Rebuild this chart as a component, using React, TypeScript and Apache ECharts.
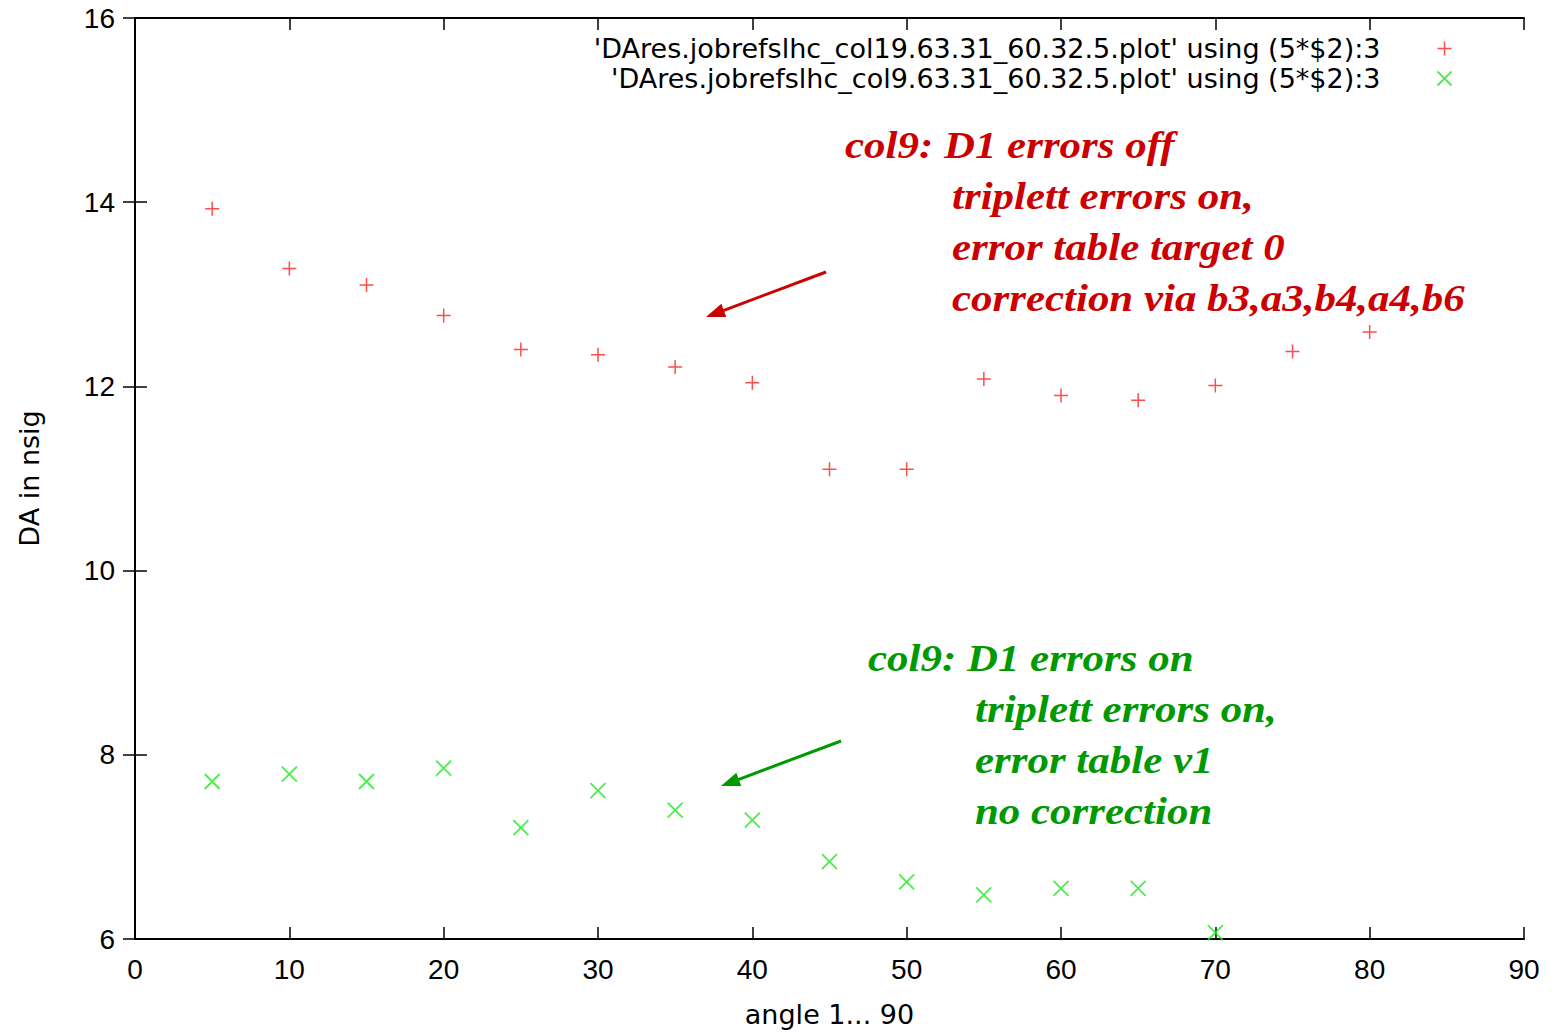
import React, { useEffect, useRef } from "react";
import * as echarts from "echarts";

// Angles (degrees) at which the dynamic aperture was evaluated
const angles = [5, 10, 15, 20, 25, 30, 35, 40, 45, 50, 55, 60, 65, 70, 75, 80];

// DA in units of sigma, col19 run (D1 errors off, corrected)
const daCol19 = [13.93, 13.28, 13.1, 12.77, 12.4, 12.345, 12.21, 12.04, 11.1, 11.1, 12.08, 11.9, 11.85, 12.01, 12.38, 12.59];

// DA in units of sigma, col9 run (D1 errors on, no correction)
const daCol9 = [7.71, 7.79, 7.71, 7.855, 7.21, 7.61, 7.4, 7.29, 6.84, 6.62, 6.48, 6.55, 6.55, 6.07];

const seriesNames = [
  "'DAres.jobrefslhc_col19.63.31_60.32.5.plot' using (5*$2):3",
  "'DAres.jobrefslhc_col9.63.31_60.32.5.plot' using (5*$2):3",
];

const redNote = ["col9: D1 errors off", "triplett errors on,", "error table target 0", "correction via b3,a3,b4,a4,b6"];
const greenNote = ["col9: D1 errors on", "triplett errors on,", "error table v1", "no correction"];

const PLUS = "path://M5 0L5 10M0 5L10 5";
const CROSS = "path://M0 0L10 10M0 10L10 0";

const RED = "#ff2020";
const GREEN = "#22e622";
const NOTE_RED = "#cc0000";
const NOTE_GREEN = "#009900";

function arrow(x1: number, y1: number, x2: number, y2: number, color: string) {
  const dx = x2 - x1;
  const dy = y2 - y1;
  const len = Math.sqrt(dx * dx + dy * dy);
  const ux = dx / len;
  const uy = dy / len;
  const headLen = 19;
  const halfW = 7;
  const bx = x2 - ux * headLen;
  const by = y2 - uy * headLen;
  const nx = -uy * halfW;
  const ny = ux * halfW;
  return [
    {
      type: "line",
      shape: { x1, y1, x2: bx + ux * 2, y2: by + uy * 2 },
      style: { stroke: color, lineWidth: 3 },
      z: 100,
    },
    {
      type: "polygon",
      shape: { points: [[x2, y2], [bx + nx, by + ny], [bx - nx, by - ny]] },
      style: { fill: color },
      z: 100,
    },
  ];
}

function noteText(lines: string[], x0: number, x1: number, y0: number, color: string) {
  const lineGap = 51;
  return lines.map((t, i) => ({
    type: "text",
    x: i === 0 ? x0 : x1,
    y: y0 + i * lineGap,
    scaleX: 1.13,
    z: 100,
    style: {
      text: t,
      fill: color,
      font: "italic bold 38px 'Liberation Serif', 'Times New Roman', serif",
      textVerticalAlign: "middle",
    },
  }));
}

export default function App() {
  const ref = useRef<HTMLDivElement>(null);

  useEffect(() => {
    if (!ref.current) return;
    const chart = echarts.init(ref.current, null, { renderer: "svg" });

    const axisLine = { show: true, lineStyle: { color: "#000", width: 2 } };
    const axisTick = { show: true, inside: true, length: 12, lineStyle: { color: "#000", width: 1.5 } };
    const font = "'Liberation Sans', Arial, sans-serif";
    const wideFont = "'DejaVu Sans', 'Liberation Sans', sans-serif";

    const legendText = { fontFamily: wideFont, fontSize: 27, color: "#000", padding: [0, 52, 0, 0] };

    chart.setOption({
      animation: false,
      backgroundColor: "#fff",
      grid: { left: 135, right: 32, top: 18, bottom: 93, containLabel: false },
      legend: [
        {
          orient: "vertical",
          right: 97,
          top: 30,
          align: "right",
          itemWidth: 14,
          itemHeight: 14,
          data: [{ name: seriesNames[0], icon: PLUS, itemStyle: { color: "none", borderColor: RED, borderWidth: 1.5 } }],
          textStyle: legendText,
        },
        {
          orient: "vertical",
          right: 97,
          top: 60,
          align: "right",
          itemWidth: 14,
          itemHeight: 14,
          data: [{ name: seriesNames[1], icon: CROSS, itemStyle: { color: "none", borderColor: GREEN, borderWidth: 1.8 } }],
          textStyle: legendText,
        },
      ],
      xAxis: [
        {
          type: "value",
          min: 0,
          max: 90,
          interval: 10,
          position: "bottom",
          axisLine,
          axisTick,
          splitLine: { show: false },
          axisLabel: { fontFamily: font, fontSize: 28, color: "#000", margin: 16 },
          name: "angle 1... 90",
          nameLocation: "middle",
          nameGap: 62,
          nameTextStyle: { fontFamily: wideFont, fontSize: 27, color: "#000" },
        },
        {
          type: "value",
          min: 0,
          max: 90,
          interval: 10,
          position: "top",
          axisLine,
          axisTick,
          splitLine: { show: false },
          axisLabel: { show: false },
        },
      ],
      yAxis: [
        {
          type: "value",
          min: 6,
          max: 16,
          interval: 2,
          position: "left",
          axisLine,
          axisTick,
          splitLine: { show: false },
          axisLabel: { fontFamily: font, fontSize: 28, color: "#000", margin: 20 },
          name: "DA in nsig",
          nameLocation: "middle",
          nameRotate: 90,
          nameGap: 92,
          nameTextStyle: { fontFamily: wideFont, fontSize: 27, color: "#000" },
        },
        {
          type: "value",
          min: 6,
          max: 16,
          interval: 2,
          position: "right",
          axisLine,
          axisTick,
          splitLine: { show: false },
          axisLabel: { show: false },
        },
      ],
      series: [
        {
          name: seriesNames[0],
          type: "scatter",
          symbol: PLUS,
          symbolSize: 14,
          itemStyle: { color: "none", borderColor: RED, borderWidth: 1.5 },
          data: daCol19.map((v, i) => [angles[i], v]),
          z: 2,
        },
        {
          name: seriesNames[1],
          type: "scatter",
          symbol: CROSS,
          symbolSize: 15,
          itemStyle: { color: "none", borderColor: GREEN, borderWidth: 1.8 },
          data: daCol9.map((v, i) => [angles[i], v]),
          z: 2,
        },
      ],
      graphic: [
        ...noteText(redNote, 845, 952, 145, NOTE_RED),
        ...arrow(826, 272, 706, 317, NOTE_RED),
        ...noteText(greenNote, 868, 975, 658, NOTE_GREEN),
        ...arrow(841, 741, 721, 786, NOTE_GREEN),
      ],
    });

    return () => chart.dispose();
  }, []);

  return (
    <div
      ref={ref}
      style={{ position: "fixed", left: 0, top: 0, width: 1556, height: 1033, background: "#fff" }}
    />
  );
}
